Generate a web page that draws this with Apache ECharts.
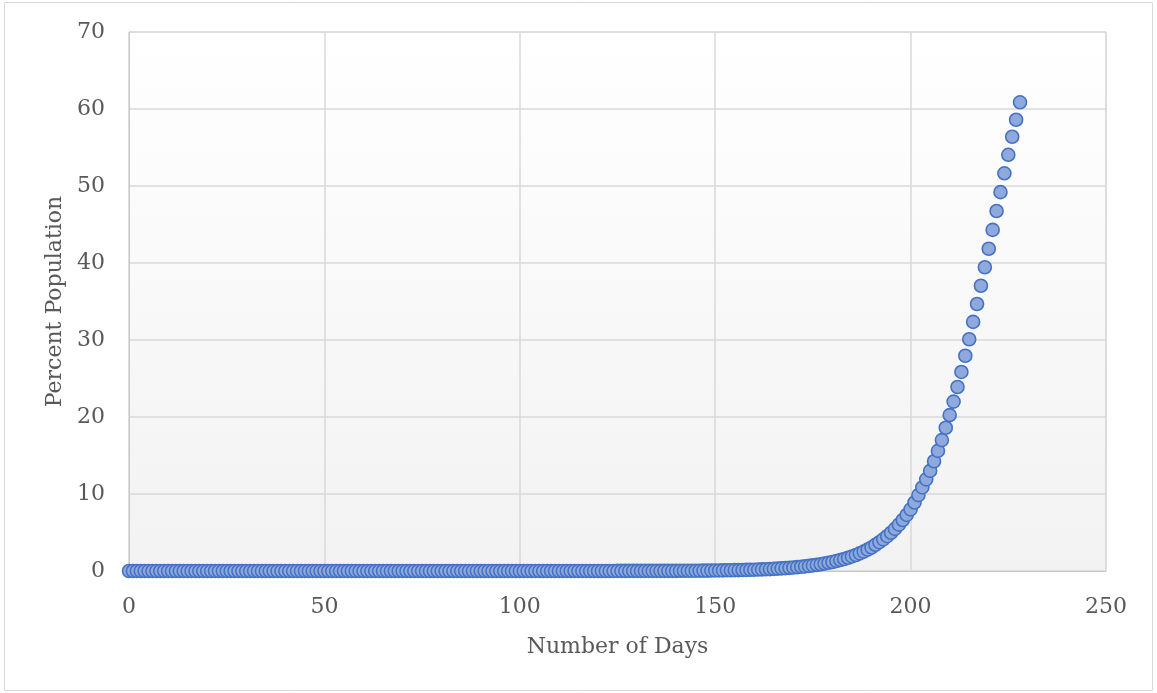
<!DOCTYPE html>
<html>
<head>
<meta charset="utf-8">
<script src="https://cdn.jsdelivr.net/npm/echarts@6/dist/echarts.min.js"></script>
<style>
html,body{margin:0;padding:0;background:#fff;}
#chart{width:1157px;height:693px;}
</style>
</head>
<body>
<div id="chart"></div>
<script>
// Day numbers start at 0 and step by 1 (one value per day).
const startDay = 0;
// Percent population per day, days 0..228
const percentPopulation = [
  0,0,0,0,0,0,0,0,0,0,
  0,0,0,0,0,0,0,0,0,0,
  0,0,0,0,0,0,0,0,0,0,
  0,0,0,0,0,0,0,0,0,0,
  0,0,0,0,0,0,0,0,0,0,
  0,0,0,0,0,0,0,0,0,0,
  0,0,0,0,0,0,0,0,0,0,
  0,0,0,0,0,0,0,0,0,0,
  0,0,0,0,0,0,0,0,0,0,
  0,0,0,0,0,0,0,0,0,0,
  0,0,0,0,0,0,0,0,0,0,
  0,0,0,0,0,0,0,0,0,0,
  0,0,0,0,0,0.01,0.01,0.01,0.01,0.01,
  0.01,0.01,0.01,0.01,0.01,0.02,0.02,0.02,0.02,0.02,
  0.02,0.03,0.03,0.03,0.04,0.04,0.04,0.05,0.05,0.06,
  0.07,0.07,0.08,0.09,0.10,0.11,0.12,0.13,0.14,0.16,
  0.17,0.19,0.21,0.23,0.25,0.28,0.31,0.34,0.37,0.41,
  0.45,0.50,0.55,0.60,0.66,0.73,0.80,0.88,0.97,1.07,
  1.17,1.29,1.42,1.56,1.72,1.89,2.08,2.29,2.52,2.77,
  3.05,3.40,3.74,4.11,4.52,4.97,5.47,6.02,6.62,7.28,
  8.00,8.90,9.85,10.85,11.90,13.00,14.25,15.60,17.00,18.60,
  20.25,22.00,23.90,25.85,27.95,30.10,32.35,34.68,37.05,39.45,
  41.85,44.30,46.75,49.20,51.65,54.05,56.40,58.60,60.87
];
const xTicks = { min: 0, max: 250, interval: 50 };
const yTicks = { min: 0, max: 70, interval: 10 };
const xAxisTitle = 'Number of Days';
const yAxisTitle = 'Percent Population';

const points = percentPopulation.map((v, i) => [startDay + i, v]);
const font = 'DejaVu Serif';
const textColor = '#595959';

const chart = echarts.init(document.getElementById('chart'), null, {renderer: 'canvas'});
chart.setOption({
  animation: false,
  backgroundColor: '#ffffff',
  graphic: [{
    type: 'rect', silent: true, z: -1,
    shape: {x: 4.5, y: 2.5, width: 1148, height: 688},
    style: {fill: 'none', stroke: '#d9d9d9', lineWidth: 1}
  }],
  grid: {
    left: 129, right: 51, top: 32, bottom: 122,
    show: true,
    borderColor: '#d9d9d9',
    borderWidth: 1,
    backgroundColor: {
      type: 'linear', x: 0, y: 0, x2: 0, y2: 1,
      colorStops: [{offset: 0, color: '#ffffff'}, {offset: 1, color: '#f2f2f2'}]
    }
  },
  xAxis: {
    type: 'value',
    min: xTicks.min, max: xTicks.max, interval: xTicks.interval,
    name: xAxisTitle, nameLocation: 'middle', nameGap: 65,
    nameTextStyle: {fontFamily: font, fontSize: 22, color: textColor},
    axisLine: {show: true, onZero: false, lineStyle: {color: '#c8c8c8', width: 1}},
    axisTick: {show: false},
    axisLabel: {fontFamily: font, fontSize: 22, color: textColor, margin: 25},
    splitLine: {show: true, lineStyle: {color: '#d9d9d9', width: 1.5}}
  },
  yAxis: {
    type: 'value',
    min: yTicks.min, max: yTicks.max, interval: yTicks.interval,
    name: yAxisTitle, nameLocation: 'middle', nameGap: 62,
    nameTextStyle: {fontFamily: font, fontSize: 22, color: textColor},
    axisLine: {show: true, lineStyle: {color: '#c8c8c8', width: 1}},
    axisTick: {show: false},
    axisLabel: {fontFamily: font, fontSize: 22, color: textColor, margin: 24},
    splitLine: {show: true, lineStyle: {color: '#d9d9d9', width: 1.5}}
  },
  series: [{
    type: 'scatter',
    data: points,
    symbol: 'circle',
    symbolSize: 13,
    itemStyle: {color: '#8FA9DC', borderColor: '#4472C4', borderWidth: 1.6, opacity: 1}
  }]
});
</script>
</body>
</html>
